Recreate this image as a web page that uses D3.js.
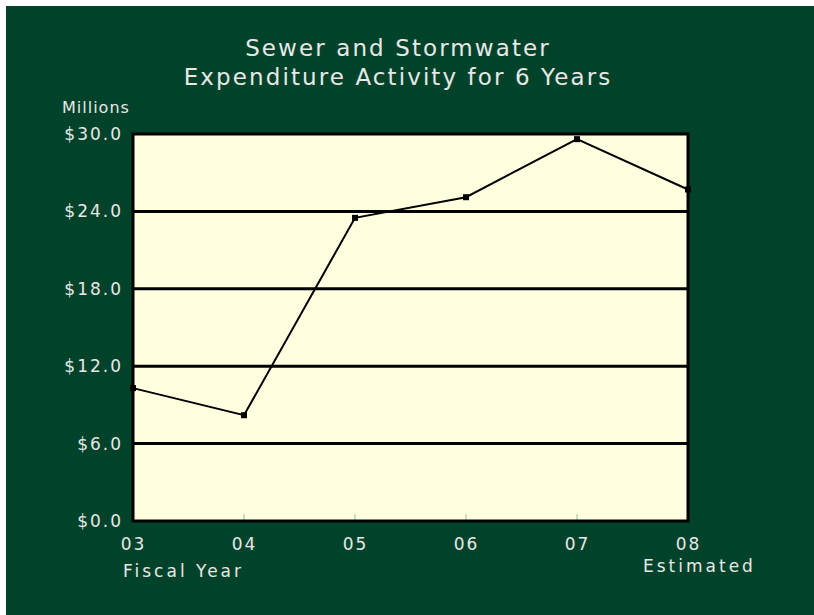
<!DOCTYPE html>
<html>
<head>
<meta charset="utf-8">
<script src="https://cdn.jsdelivr.net/npm/d3@7"></script>
<style>
  body { margin: 0; background: #ffffff; }
  text { font-family: "DejaVu Sans", sans-serif; fill: #e8e8e8; }
</style>
</head>
<body>
<div id="chart"></div>
<script>
// chart data
var years = ['03', '04', '05', '06', '07', '08'];
var spending = [10.3, 8.2, 23.5, 25.1, 29.6, 25.7];
var yTicks = [0, 6, 12, 18, 24, 30];
var titleLines = ['Sewer and Stormwater', 'Expenditure Activity for 6 Years'];

var width = 814, height = 615;
var plotLeft = 133, plotRight = 688, plotTop = 134, plotBottom = 521;

var svg = d3.select('#chart').append('svg')
    .attr('width', width)
    .attr('height', height);

// green panel
svg.append('rect')
  .attr('x', 6).attr('y', 6)
  .attr('width', width - 6).attr('height', height - 6)
  .attr('fill', '#00432a');

var xscale = d3.scalePoint()
    .domain(years)
    .range([plotLeft, plotRight]);

var yscale = d3.scaleLinear()
    .domain([0, 30])
    .range([plotBottom, plotTop]);

// plot background
svg.append('rect')
  .attr('x', plotLeft).attr('y', plotTop)
  .attr('width', plotRight - plotLeft).attr('height', plotBottom - plotTop)
  .attr('fill', '#ffffe0');

// gridlines
svg.append('g')
  .selectAll('line')
  .data(yTicks.slice(1, -1))
  .enter().append('line')
    .attr('x1', plotLeft).attr('x2', plotRight)
    .attr('y1', d => yscale(d)).attr('y2', d => yscale(d))
    .attr('stroke', '#000').attr('stroke-width', 3);

// small green ticks along the bottom
svg.append('g')
  .selectAll('line')
  .data(years.slice(1, -1))
  .enter().append('line')
    .attr('x1', d => xscale(d)).attr('x2', d => xscale(d))
    .attr('y1', plotBottom - 7).attr('y2', plotBottom)
    .attr('stroke', '#8cc58c').attr('stroke-width', 1);

// frame
svg.append('rect')
  .attr('x', plotLeft).attr('y', plotTop)
  .attr('width', plotRight - plotLeft).attr('height', plotBottom - plotTop)
  .attr('fill', 'none')
  .attr('stroke', '#000').attr('stroke-width', 3);

// y axis labels
var yaxis = d3.axisLeft(yscale)
    .tickValues(yTicks)
    .tickSize(0)
    .tickPadding(10)
    .tickFormat(d => '$' + d3.format('.1f')(d));

svg.append('g')
  .attr('class', 'yaxis')
  .attr('transform', 'translate(' + plotLeft + ', 0)')
  .call(yaxis)
  .call(g => g.select('.domain').remove())
  .selectAll('text')
    .style('font-size', '17px')
    .style('letter-spacing', '2px')
    .attr('fill', '#e8e8e8');

// x axis labels
var xaxis = d3.axisBottom(xscale)
    .tickSize(0)
    .tickPadding(17);

svg.append('g')
  .attr('class', 'xaxis')
  .attr('transform', 'translate(0, ' + plotBottom + ')')
  .call(xaxis)
  .call(g => g.select('.domain').remove())
  .selectAll('text')
    .style('font-size', '17px')
    .style('letter-spacing', '2px')
    .attr('fill', '#e8e8e8');

// line and markers
var line = d3.line()
    .x((d, i) => xscale(years[i]))
    .y(d => yscale(d));

svg.append('path')
  .datum(spending)
  .attr('d', line)
  .attr('fill', 'none')
  .attr('stroke', '#000')
  .attr('stroke-width', 2);

svg.append('g')
  .selectAll('rect')
  .data(spending)
  .enter().append('rect')
    .attr('x', (d, i) => xscale(years[i]) - 3)
    .attr('y', d => yscale(d) - 3)
    .attr('width', 6).attr('height', 6)
    .attr('fill', '#000');

// titles and labels
svg.append('g')
  .selectAll('text')
  .data(titleLines)
  .enter().append('text')
    .attr('x', 398)
    .attr('y', (d, i) => 56 + i * 29)
    .attr('text-anchor', 'middle')
    .style('font-size', '23px')
    .style('letter-spacing', '2.1px')
    .text(d => d);

svg.append('text')
  .attr('x', 62).attr('y', 113)
  .style('font-size', '16px')
  .style('letter-spacing', '1px')
  .text('Millions');

svg.append('text')
  .attr('x', 123).attr('y', 577)
  .style('font-size', '17px')
  .style('letter-spacing', '3px')
  .text('Fiscal Year');

svg.append('text')
  .attr('x', 643).attr('y', 572)
  .style('font-size', '17px')
  .style('letter-spacing', '3px')
  .text('Estimated');
</script>
</body>
</html>
